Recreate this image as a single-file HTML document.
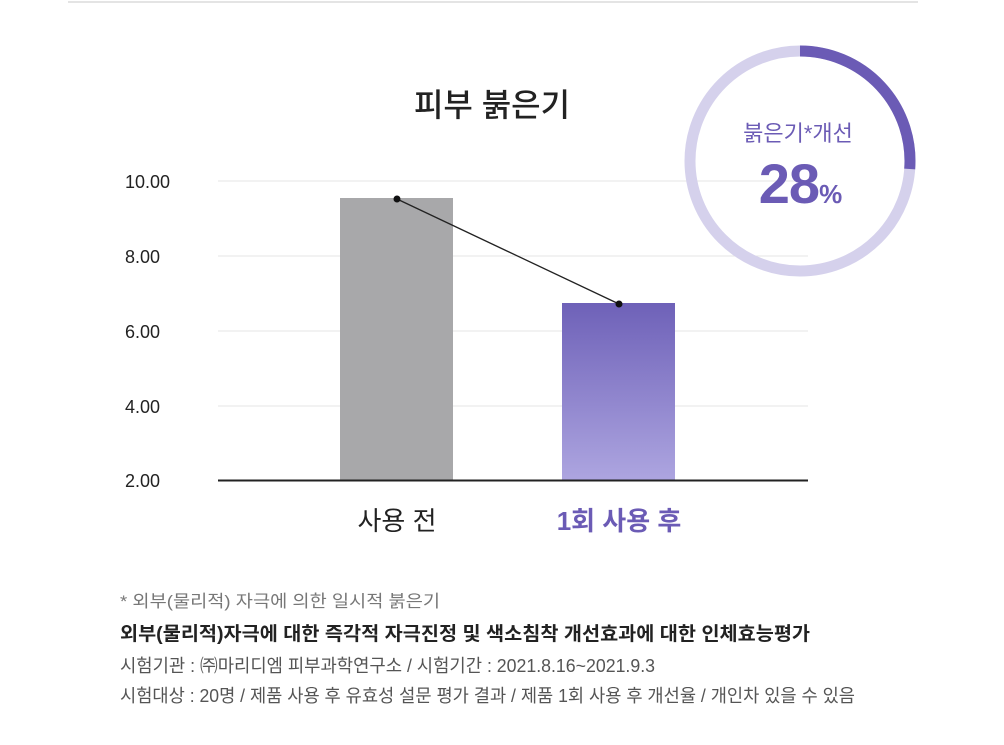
<!DOCTYPE html>
<html><head><meta charset="utf-8"><style>
body{margin:0;width:1004px;height:745px;background:#fff;overflow:hidden;font-family:"Liberation Sans","Noto Sans CJK KR",sans-serif;}
</style></head><body>
<svg width="1004" height="745" xmlns="http://www.w3.org/2000/svg" style="position:absolute;left:0;top:0;font-family:'Liberation Sans','Noto Sans CJK KR',sans-serif">
<defs><linearGradient id="pg" x1="0" y1="0" x2="0" y2="1"><stop offset="0" stop-color="#6e61b8"/><stop offset="1" stop-color="#ada5e0"/></linearGradient></defs>
<line x1="68" y1="2" x2="918" y2="2" stroke="#e4e4e4" stroke-width="2"/>
<text x="492" y="116" font-size="32" font-weight="500" text-anchor="middle" fill="#222">피부 붉은기</text>
<g stroke="#e6e6e6" stroke-width="1">
<line x1="218" y1="181" x2="808" y2="181"/><line x1="218" y1="256" x2="808" y2="256"/>
<line x1="218" y1="331" x2="808" y2="331"/><line x1="218" y1="406" x2="808" y2="406"/></g>
<g font-size="18" fill="#222">
<text x="125" y="188">10.00</text><text x="125" y="263">8.00</text><text x="125" y="338">6.00</text><text x="125" y="413">4.00</text><text x="125" y="487">2.00</text></g>
<rect x="340" y="198" width="113" height="282" fill="#a8a8aa"/>
<rect x="562" y="303" width="113" height="177" fill="url(#pg)"/>
<line x1="218" y1="480.5" x2="808" y2="480.5" stroke="#222" stroke-width="2"/>
<line x1="397" y1="199" x2="619" y2="304" stroke="#222" stroke-width="1.3"/>
<circle cx="397" cy="199" r="3.5" fill="#111"/><circle cx="619" cy="304" r="3.5" fill="#111"/>
<text x="397" y="530" font-size="26" text-anchor="middle" fill="#222">사용 전</text>
<text x="619" y="530" font-size="26" font-weight="bold" text-anchor="middle" fill="#6b5bb5">1회 사용 후</text>
<circle cx="800" cy="161" r="110" fill="none" stroke="#d5d1ec" stroke-width="11"/>
<path d="M800 51 A110 110 0 0 1 909.7 169" fill="none" stroke="#6b5bb5" stroke-width="11"/>
<text x="798" y="141" font-size="22" text-anchor="middle" fill="#6b5bb5">붉은기*개선</text>
<text x="800" y="203" font-size="56" font-weight="bold" text-anchor="middle" fill="#6b5bb5" letter-spacing="-1">28<tspan font-size="26">%</tspan></text>
<text x="120" y="607" font-size="17" fill="#777" textLength="320" lengthAdjust="spacingAndGlyphs">* 외부(물리적) 자극에 의한 일시적 붉은기</text>
<text x="120" y="640" font-size="19" font-weight="bold" fill="#222" textLength="690" lengthAdjust="spacingAndGlyphs">외부(물리적)자극에 대한 즉각적 자극진정 및 색소침착 개선효과에 대한 인체효능평가</text>
<text x="120" y="672" font-size="18" fill="#555" textLength="535" lengthAdjust="spacingAndGlyphs">시험기관 : ㈜마리디엠 피부과학연구소 / 시험기간 : 2021.8.16~2021.9.3</text>
<text x="120" y="702" font-size="18" fill="#555" textLength="735" lengthAdjust="spacingAndGlyphs">시험대상 : 20명 / 제품 사용 후 유효성 설문 평가 결과 / 제품 1회 사용 후 개선율 / 개인차 있을 수 있음</text>
</svg>
</body></html>
